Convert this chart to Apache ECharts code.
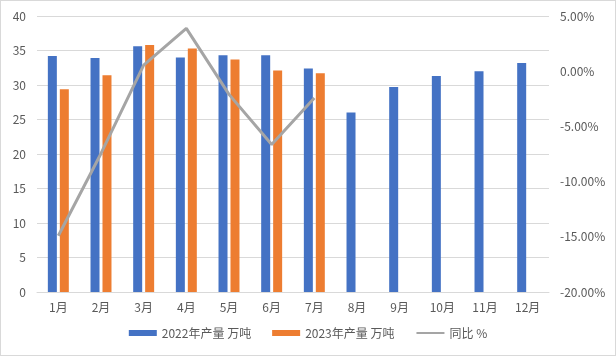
<!DOCTYPE html>
<html><head><meta charset="utf-8">
<script src="https://cdn.jsdelivr.net/npm/echarts@6/dist/echarts.min.js"></script>
<style>html,body{margin:0;padding:0;background:#fff}#c{width:614px;height:354px;border:1px solid #d9d9d9}</style>
</head><body><div id="c"></div>
<script>
const categories = ['1月','2月','3月','4月','5月','6月','7月','8月','9月','10月','11月','12月'];
const prod2022 = [34.2, 33.9, 35.6, 34.0, 34.3, 34.3, 32.4, 26.0, 29.7, 31.3, 32.0, 33.2];
const prod2023 = [29.4, 31.4, 35.8, 35.3, 33.7, 32.1, 31.7];
const yoy = [-0.149, -0.0745, 0.0055, 0.0388, -0.021, -0.0664, -0.0243];
const seriesNames = ['2022年产量 万吨', '2023年产量 万吨', '同比 %'];

const font = '"Noto Sans CJK SC", "Microsoft YaHei", sans-serif';
const chart = echarts.init(document.getElementById('c'));
chart.setOption({
  animation: false,
  textStyle: {fontFamily: font},
  grid: {left: 36, right: 66, top: 15, bottom: 63, containLabel: false},
  legend: {
    bottom: 11, left: 'center', itemWidth: 28, itemHeight: 6, itemGap: 21,
    textStyle: {color: '#595959', fontSize: 12, fontFamily: font},
    data: [{name: seriesNames[0], icon: 'rect'}, {name: seriesNames[1], icon: 'rect'},
           {name: seriesNames[2], itemStyle: {opacity: 0}}]
  },
  xAxis: {
    type: 'category', data: categories,
    axisLine: {lineStyle: {color: '#d9d9d9'}},
    axisTick: {show: false},
    axisLabel: {color: '#595959', fontSize: 12, margin: 9, fontFamily: font}
  },
  yAxis: [{
    type: 'value', min: 0, max: 40, interval: 5,
    axisLine: {show: false}, axisTick: {show: false},
    splitLine: {lineStyle: {color: '#d9d9d9'}},
    axisLabel: {color: '#595959', fontSize: 12, margin: 11, fontFamily: font}
  }, {
    type: 'value', min: -0.2, max: 0.05, interval: 0.05,
    axisLine: {show: false}, axisTick: {show: false}, splitLine: {show: false},
    axisLabel: {color: '#595959', fontSize: 12, margin: 11, fontFamily: font,
      formatter: v => (Math.round(v * 10000) / 100).toFixed(2) + '%'}
  }],
  series: [{
    name: seriesNames[0], type: 'bar', data: prod2022, barWidth: 9, barGap: '33%',
    itemStyle: {color: '#4472C4'}
  }, {
    name: seriesNames[1], type: 'bar', data: prod2023, barWidth: 9,
    itemStyle: {color: '#ED7D31'}
  }, {
    name: seriesNames[2], type: 'line', yAxisIndex: 1, data: yoy,
    symbol: 'none', lineStyle: {color: '#A5A5A5', width: 3}, itemStyle: {color: '#A5A5A5'}
  }]
});
</script></body></html>
